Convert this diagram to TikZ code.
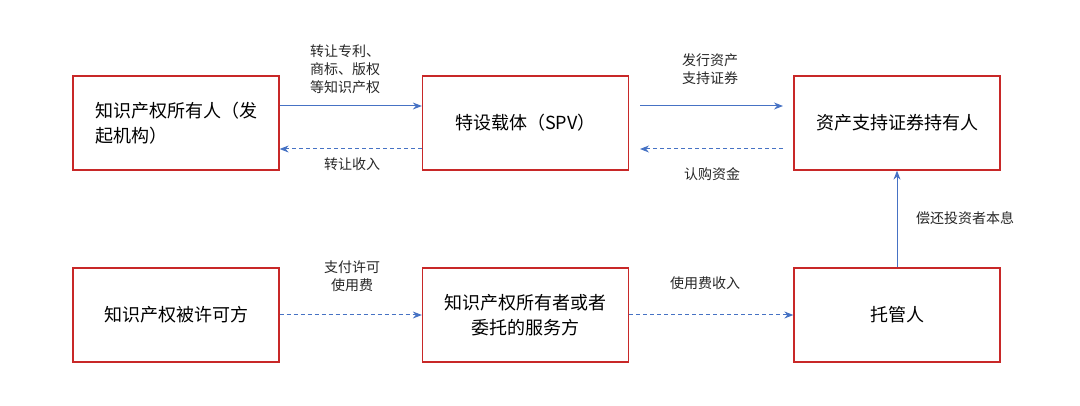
\documentclass[tikz,border=0pt]{standalone}
\usepackage{fontspec}
\setmainfont{Noto Sans CJK SC}
\usetikzlibrary{arrows.meta}
\definecolor{bred}{RGB}{200,40,40}
\definecolor{ablue}{RGB}{70,114,196}
\begin{document}
\begin{tikzpicture}[x=1pt,y=-1pt,
  box/.style={draw=bred,line width=1.3pt,minimum width=206pt,minimum height=94pt,align=left,font=\fontsize{18}{25}\selectfont},
  lab/.style={align=center,font=\fontsize{14}{18}\selectfont,text=black!85},
  ar/.style={draw=ablue,line width=1pt,-{Stealth[length=9pt,width=7pt]}},
  dar/.style={ar,dash pattern=on 4pt off 3pt}]
\useasboundingbox (0,0) rectangle (1080,406);
\node[box] (a) at (176,123) {知识产权所有人（发\\起机构）};
\node[box] (b) at (525.5,123) {特设载体（SPV）};
\node[box] (c) at (897,123) {资产支持证券持有人};
\node[box] (d) at (176,315) {知识产权被许可方};
\node[box,align=center] (e) at (525.5,315) {知识产权所有者或者\\委托的服务方};
\node[box] (f) at (897,315) {托管人};
\draw[ar] (a.east|-0,106) -- (b.west|-0,106);
\draw[dar] (b.west|-0,149) -- (a.east|-0,149);
\draw[ar] (640,106) -- (783,106);
\draw[dar] (783,149) -- (640,149);
\draw[ar] (f.north) -- (c.south);
\draw[dar] (d.east) -- (e.west);
\draw[dar] (e.east) -- (f.west);
\node[lab] (l1) at (345,69) {转让专利、\\商标、版权\\等知识产权};
\node[lab] (l2) at (352,164) {转让收入};
\node[lab] (l3) at (710,69) {发行资产\\支持证券};
\node[lab] (l4) at (712,174) {认购资金};
\node[lab] (l5) at (965,218) {偿还投资者本息};
\node[lab] (l6) at (352,276) {支付许可\\使用费};
\node[lab] (l7) at (705,283) {使用费收入};
\end{tikzpicture}
\end{document}
